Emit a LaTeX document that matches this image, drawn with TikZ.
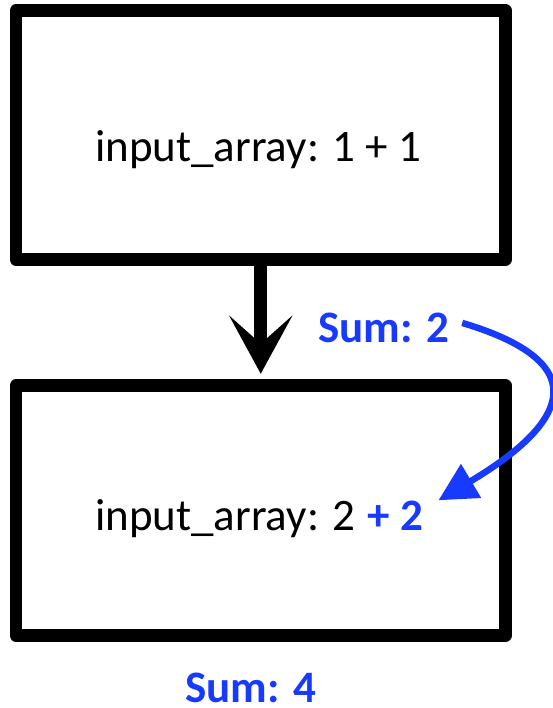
\documentclass[tikz,border=0pt]{standalone}
\usepackage{fontspec}
\setmainfont{Carlito}
\usetikzlibrary{arrows.meta}
\definecolor{sumblue}{RGB}{24,58,255}
\begin{document}
\begin{tikzpicture}[x=1pt,y=-1pt,
  box/.style={draw=black, line width=12.5pt, line join=round, minimum width=489.5pt,
              minimum height=249pt, inner sep=0pt},
  plain/.style={font=\fontsize{45}{54}\selectfont, inner sep=0pt, anchor=base west},
  sumlabel/.style={font=\fontsize{45}{54}\selectfont\bfseries, text=sumblue,
                   inner sep=0pt, anchor=base west},
  flow/.style={line width=13pt, -{Stealth[length=58pt,width=63pt,inset=28pt]}},
  carry/.style={draw=sumblue, line width=6.5pt, -{Triangle[length=38pt,width=38pt]}}]
\useasboundingbox (0,0) rectangle (552,708);
% the two stages
\node[box] (first) at (260.75,135) {};
\node[box, minimum height=250pt] (second) at (260.75,510.5) {};
% stage contents
\node[plain] (t1) at (95,162) {input\_array: 1 + 1};
\node[plain] (t2) at (95,530) {input\_array: 2};
\node[sumlabel] (p2) at ([xshift=12pt]t2.base east) {+ 2};
% running sums
\node[sumlabel] (s2) at (318,342) {Sum: 2};
\node[sumlabel] (s4) at (185,702) {Sum: 4};
% flow between stages
\draw[flow] (first.south) -- ([yshift=5.5pt]second.north);
% carried sum
\draw[carry] ([xshift=13pt,yshift=4.5pt]s2.east)
  .. controls (620,370) and (540,440) .. ([xshift=15pt]p2.north east);
\end{tikzpicture}
\end{document}
